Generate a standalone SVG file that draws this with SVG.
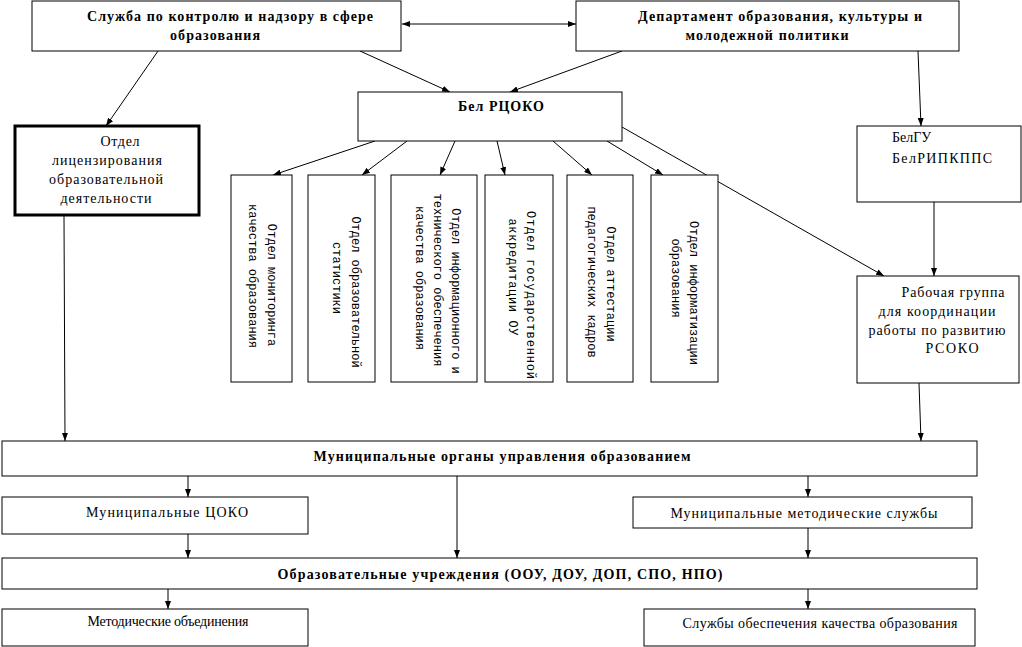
<svg xmlns="http://www.w3.org/2000/svg" width="1022" height="647" viewBox="0 0 1022 647">
<style>
.box{fill:#fff;stroke:#000;stroke-width:1}
.thick{fill:#fff;stroke:#000;stroke-width:3}
.t{font-family:'Liberation Serif','DejaVu Serif','Times New Roman',serif;font-size:14px;fill:#000}
.b{font-family:'Liberation Serif','DejaVu Serif','Times New Roman',serif;font-size:14px;font-weight:bold;fill:#000}
.m{font-family:'Liberation Mono','DejaVu Sans Mono','Courier New',monospace;font-size:12px;fill:#000}
.c{stroke:#000;stroke-width:1;fill:none;marker-end:url(#ah)}
</style>
<defs>
<marker id="ah" viewBox="0 0 8 6" refX="8" refY="3" markerWidth="8" markerHeight="6" markerUnits="userSpaceOnUse" orient="auto-start-reverse">
<path d="M0,0 L8,3 L0,6 z" fill="#000"/>
</marker>
</defs>
<rect width="1022" height="647" fill="#fff"/>

<g id="connectors">
<line class="c" x1="402" y1="24" x2="576" y2="24" style="marker-start:url(#ah)"/>
<line class="c" x1="360" y1="51" x2="450" y2="92"/>
<line class="c" x1="622" y1="51" x2="510" y2="92"/>
<line class="c" x1="158" y1="51" x2="106" y2="126"/>
<line class="c" x1="918" y1="51" x2="921" y2="126"/>
<line class="c" x1="375" y1="141" x2="273" y2="175"/>
<line class="c" x1="407" y1="141" x2="362" y2="175"/>
<line class="c" x1="455" y1="141" x2="440" y2="175"/>
<line class="c" x1="497" y1="141" x2="505" y2="175"/>
<line class="c" x1="553" y1="141" x2="592" y2="175"/>
<line class="c" x1="607" y1="141" x2="663" y2="175"/>
<line class="c" x1="622" y1="127" x2="884" y2="276"/>
<line class="c" x1="934" y1="202" x2="934" y2="276"/>
<line class="c" x1="64" y1="216" x2="65" y2="441"/>
<line class="c" x1="919" y1="383" x2="921" y2="441"/>
<line class="c" x1="188" y1="476" x2="188" y2="497"/>
<line class="c" x1="457" y1="476" x2="457" y2="558"/>
<line class="c" x1="808" y1="476" x2="808" y2="497"/>
<line class="c" x1="188" y1="534" x2="188" y2="558"/>
<line class="c" x1="808" y1="528" x2="808" y2="558"/>
<line class="c" x1="168" y1="589" x2="168" y2="609"/>
<line class="c" x1="808" y1="589" x2="808" y2="609"/>
</g>

<g id="sluzhba">
<rect class="box" x="32" y="1" width="369" height="50"/>
<text class="b" x="230" y="21" text-anchor="middle" textLength="286" lengthAdjust="spacing">Служба по контролю и надзору в сфере</text>
<text class="b" x="215" y="40" text-anchor="middle" textLength="90" lengthAdjust="spacing">образования</text>
</g>

<g id="departament">
<rect class="box" x="576" y="1" width="383" height="50"/>
<text class="b" x="780" y="21" text-anchor="middle" textLength="284" lengthAdjust="spacing">Департамент образования, культуры и</text>
<text class="b" x="767" y="40" text-anchor="middle" textLength="163" lengthAdjust="spacing">молодежной политики</text>
</g>

<g id="belrcoko">
<rect class="box" x="358" y="92" width="264" height="49"/>
<text class="b" x="501" y="111" text-anchor="middle" textLength="86" lengthAdjust="spacing">Бел РЦОКО</text>
</g>

<g id="licenz">
<rect class="thick" x="15" y="126" width="184" height="89"/>
<text class="t" x="120" y="146" text-anchor="middle" font-size="15" textLength="39" lengthAdjust="spacing">Отдел</text>
<text class="t" x="107" y="165" text-anchor="middle" font-size="15" textLength="110" lengthAdjust="spacing">лицензирования</text>
<text class="t" x="106" y="184" text-anchor="middle" font-size="15" textLength="114" lengthAdjust="spacing">образовательной</text>
<text class="t" x="106" y="203" text-anchor="middle" font-size="15" textLength="91" lengthAdjust="spacing">деятельности</text>
</g>

<g id="otdel1">
<rect class="box" x="231" y="175" width="61" height="207"/>
<text class="m" transform="translate(268,285) rotate(90)" text-anchor="middle">Отдел мониторинга</text>
<text class="m" transform="translate(249,276) rotate(90)" text-anchor="middle">качества образования</text>
</g>

<g id="otdel2">
<rect class="box" x="308" y="175" width="67" height="207"/>
<text class="m" transform="translate(352,292) rotate(90)" text-anchor="middle">Отдел образовательной</text>
<text class="m" transform="translate(333,278) rotate(90)" text-anchor="middle">статистики</text>
</g>

<g id="otdel3">
<rect class="box" x="391" y="175" width="86" height="207"/>
<text class="m" transform="translate(452,291) rotate(90)" text-anchor="middle">Отдел информационного и</text>
<text class="m" transform="translate(434,280) rotate(90)" text-anchor="middle">технического обеспечения</text>
<text class="m" transform="translate(416,278) rotate(90)" text-anchor="middle">качества образования</text>
</g>

<g id="otdel4">
<rect class="box" x="485" y="175" width="68" height="207"/>
<text class="m" transform="translate(527,295) rotate(90)" text-anchor="middle" textLength="168" lengthAdjust="spacing">Отдел государственной</text>
<text class="m" transform="translate(509,277) rotate(90)" text-anchor="middle" textLength="117" lengthAdjust="spacing">аккредитации ОУ</text>
</g>

<g id="otdel5">
<rect class="box" x="567" y="175" width="66" height="207"/>
<text class="m" transform="translate(607,284) rotate(90)" text-anchor="middle">Отдел аттестации</text>
<text class="m" transform="translate(588,282) rotate(90)" text-anchor="middle">педагогических кадров</text>
</g>

<g id="otdel6">
<rect class="box" x="651" y="175" width="67" height="207"/>
<text class="m" transform="translate(690,293) rotate(90)" text-anchor="middle">Отдел информатизации</text>
<text class="m" transform="translate(672,278) rotate(90)" text-anchor="middle">образования</text>
</g>

<g id="belgu">
<rect class="box" x="857" y="126" width="164" height="76"/>
<text class="t" x="892" y="142">БелГУ</text>
<text class="t" x="892" y="163" textLength="100" lengthAdjust="spacing">БелРИПКППС</text>
</g>

<g id="rabochaya">
<rect class="box" x="857" y="276" width="162" height="107"/>
<text class="t" x="953" y="297" text-anchor="middle" textLength="103" lengthAdjust="spacing">Рабочая группа</text>
<text class="t" x="937" y="316" text-anchor="middle" textLength="117" lengthAdjust="spacing">для координации</text>
<text class="t" x="937" y="335" text-anchor="middle" textLength="137" lengthAdjust="spacing">работы по развитию</text>
<text class="t" x="952" y="353" text-anchor="middle" textLength="53" lengthAdjust="spacing">РСОКО</text>
</g>

<g id="mun_organy">
<rect class="box" x="2" y="441" width="975" height="35"/>
<text class="b" x="502" y="461" text-anchor="middle" font-size="13" textLength="377" lengthAdjust="spacing">Муниципальные органы управления образованием</text>
</g>

<g id="mun_coko">
<rect class="box" x="2" y="497" width="306" height="37"/>
<text class="t" x="167" y="517" text-anchor="middle" textLength="162" lengthAdjust="spacing">Муниципальные ЦОКО</text>
</g>

<g id="mun_metod">
<rect class="box" x="633" y="497" width="339" height="31"/>
<text class="t" x="804" y="518" text-anchor="middle" textLength="267" lengthAdjust="spacing">Муниципальные методические службы</text>
</g>

<g id="obraz_uchr">
<rect class="box" x="2" y="558" width="975" height="31"/>
<text class="b" x="500" y="579" text-anchor="middle" font-size="13" textLength="445" lengthAdjust="spacing">Образовательные учреждения (ООУ, ДОУ, ДОП, СПО, НПО)</text>
</g>

<g id="metod_obed">
<rect class="box" x="2" y="609" width="306" height="37"/>
<text class="t" x="168" y="626" text-anchor="middle" font-size="12" textLength="161" lengthAdjust="spacing">Методические объединения</text>
</g>

<g id="sluzhby_kach">
<rect class="box" x="644" y="609" width="331" height="37"/>
<text class="t" x="820" y="628" text-anchor="middle" font-size="13" textLength="275" lengthAdjust="spacing">Службы обеспечения качества образования</text>
</g>
</svg>
